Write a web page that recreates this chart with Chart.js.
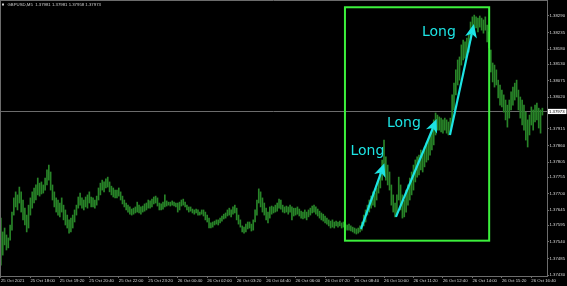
<!DOCTYPE html>
<html><head><meta charset="utf-8">
<script src="https://cdn.jsdelivr.net/npm/chart.js@4.4.0/dist/chart.umd.min.js"></script>
<style>html,body{margin:0;padding:0;background:#000;overflow:hidden}#wrap{width:567px;height:286px}</style>
</head><body><div id="wrap"><canvas id="c" width="567" height="286"></canvas></div>
<script>
const symbolTitle = 'GBPUSD,M5  1.37981 1.37981 1.37958 1.37973';
const xTickLabels = ['25 Oct 2021','25 Oct 18:00','25 Oct 19:20','25 Oct 20:40','25 Oct 22:00','25 Oct 23:20','26 Oct 00:40','26 Oct 02:00','26 Oct 03:20','26 Oct 04:40','26 Oct 06:00','26 Oct 07:20','26 Oct 08:40','26 Oct 10:00','26 Oct 11:20','26 Oct 12:40','26 Oct 14:00','26 Oct 15:20','26 Oct 16:40'];
const barsPerTick = 16;
const slotCount = 297;
const yTicks = [1.38290,1.38235,1.38180,1.38130,1.38075,1.38020,1.37915,1.37860,1.37805,1.37755,1.37700,1.37645,1.37595,1.37540,1.37485,1.37430];
const yMin = 1.374267, yMax = 1.383431;
const bidPrice = 1.37973;

const highs = [
1.37619,1.37573,1.37586,1.37563,1.37553,1.37596,1.37639,1.37686,1.37706,1.37696,
1.37722,1.37706,1.37679,1.37652,1.37629,1.37662,1.37686,1.37706,1.37719,1.37729,
1.37752,1.37735,1.37739,1.37729,1.37752,1.37779,1.37795,1.37772,1.37729,1.37706,
1.37686,1.37679,1.37669,1.37686,1.37662,1.37646,1.37629,1.37613,1.37619,1.37629,
1.37646,1.37662,1.37689,1.37702,1.37686,1.37679,1.37689,1.37696,1.37706,1.37689,
1.37686,1.37679,1.37692,1.37719,1.37735,1.37745,1.37739,1.37749,1.37755,1.37739,
1.37725,1.37719,1.37712,1.37712,1.37719,1.37706,1.37692,1.37679,1.37669,1.37662,
1.37656,1.37649,1.37652,1.37656,1.37672,1.37662,1.37656,1.37659,1.37666,1.37669,
1.37679,1.37676,1.37682,1.37689,1.37692,1.37686,1.37669,1.37666,1.37672,1.37696,
1.37676,1.37672,1.37672,1.37676,1.37672,1.37669,1.37669,1.37672,1.37679,1.37682,
1.37672,1.37662,1.37656,1.37656,1.37649,1.37646,1.37649,1.37646,1.37639,1.37646,
1.37646,1.37639,1.37629,1.37619,1.37603,1.37606,1.37609,1.37613,1.37613,1.37619,
1.37626,1.37632,1.37636,1.37646,1.37652,1.37646,1.37656,1.37662,1.37652,1.37629,
1.37613,1.37593,1.37589,1.37599,1.37606,1.37606,1.37599,1.37613,1.37646,1.37679,
1.37716,1.37706,1.37686,1.37669,1.37652,1.37639,1.37656,1.37659,1.37656,1.37662,
1.37669,1.37682,1.37679,1.37662,1.37656,1.37659,1.37656,1.37662,1.37656,1.37652,
1.37652,1.37656,1.37649,1.37642,1.37639,1.37646,1.37639,1.37646,1.37652,1.37659,
1.37662,1.37656,1.37649,1.37642,1.37636,1.37632,1.37626,1.37619,1.37613,1.37609,
1.37613,1.37606,1.37609,1.37606,1.37609,1.37603,1.37606,1.37599,1.37596,1.37599,
1.37593,1.37589,1.37586,1.37583,1.37586,1.37593,1.37606,1.37629,1.37646,1.37662,
1.37679,1.37692,1.37706,1.37702,1.37719,1.37745,1.37779,1.37812,1.37878,1.37822,
1.37795,1.37772,1.37729,1.37696,1.37669,1.37696,1.37755,1.37729,1.37696,1.37679,
1.37712,1.37729,1.37752,1.37772,1.37795,1.37812,1.37822,1.37828,1.37845,1.37838,
1.37855,1.37868,1.37878,1.37895,1.37918,1.37945,1.37968,1.37961,1.37955,1.37951,
1.37945,1.37951,1.37945,1.37938,1.37951,1.38028,1.38067,1.38111,1.38144,1.38154,
1.38194,1.38210,1.38204,1.38217,1.38227,1.38270,1.38287,1.38293,1.38287,1.38283,
1.38290,1.38283,1.38277,1.38287,1.38260,1.38237,1.38177,1.38134,1.38127,1.38111,
1.38077,1.38061,1.38044,1.38028,1.38011,1.37994,1.38011,1.38038,1.38054,1.38067,
1.38077,1.38044,1.38021,1.38011,1.37994,1.37971,1.37945,1.37961,1.37988,1.37978,
1.37994,1.38001,1.37984,1.37978,1.37984];
const lows = [
1.37463,1.37496,1.37530,1.37513,1.37520,1.37546,1.37579,1.37629,1.37656,1.37646,
1.37669,1.37639,1.37613,1.37596,1.37573,1.37586,1.37629,1.37652,1.37669,1.37679,
1.37696,1.37692,1.37699,1.37702,1.37712,1.37729,1.37745,1.37712,1.37679,1.37656,
1.37639,1.37629,1.37623,1.37639,1.37613,1.37596,1.37586,1.37569,1.37573,1.37586,
1.37606,1.37629,1.37652,1.37662,1.37652,1.37646,1.37656,1.37652,1.37669,1.37656,
1.37656,1.37652,1.37662,1.37679,1.37696,1.37712,1.37706,1.37719,1.37722,1.37706,
1.37696,1.37689,1.37686,1.37686,1.37692,1.37679,1.37666,1.37656,1.37646,1.37639,
1.37632,1.37629,1.37632,1.37636,1.37639,1.37636,1.37632,1.37639,1.37642,1.37646,
1.37652,1.37652,1.37656,1.37666,1.37669,1.37659,1.37646,1.37646,1.37649,1.37656,
1.37659,1.37662,1.37659,1.37662,1.37659,1.37656,1.37639,1.37646,1.37659,1.37662,
1.37656,1.37646,1.37639,1.37642,1.37636,1.37632,1.37636,1.37629,1.37629,1.37632,
1.37626,1.37613,1.37606,1.37586,1.37586,1.37589,1.37596,1.37599,1.37596,1.37603,
1.37609,1.37616,1.37619,1.37626,1.37629,1.37623,1.37632,1.37636,1.37613,1.37599,
1.37589,1.37573,1.37569,1.37573,1.37583,1.37586,1.37576,1.37579,1.37606,1.37629,
1.37669,1.37656,1.37639,1.37629,1.37613,1.37603,1.37619,1.37632,1.37636,1.37639,
1.37642,1.37652,1.37649,1.37639,1.37636,1.37639,1.37632,1.37639,1.37613,1.37626,
1.37629,1.37632,1.37626,1.37619,1.37616,1.37619,1.37613,1.37623,1.37629,1.37636,
1.37639,1.37632,1.37626,1.37619,1.37613,1.37609,1.37603,1.37599,1.37593,1.37586,
1.37589,1.37586,1.37593,1.37589,1.37593,1.37586,1.37589,1.37583,1.37579,1.37579,
1.37576,1.37573,1.37569,1.37566,1.37569,1.37573,1.37579,1.37593,1.37606,1.37629,
1.37639,1.37652,1.37662,1.37656,1.37679,1.37702,1.37719,1.37745,1.37772,1.37745,
1.37729,1.37712,1.37662,1.37639,1.37623,1.37632,1.37679,1.37646,1.37619,1.37623,
1.37639,1.37662,1.37679,1.37696,1.37712,1.37739,1.37755,1.37762,1.37779,1.37772,
1.37789,1.37805,1.37812,1.37828,1.37845,1.37862,1.37895,1.37911,1.37911,1.37905,
1.37901,1.37911,1.37901,1.37895,1.37905,1.37928,1.37978,1.38028,1.38061,1.38077,
1.38127,1.38144,1.38150,1.38160,1.38170,1.38210,1.38237,1.38243,1.38250,1.38237,
1.38253,1.38243,1.38233,1.38243,1.38204,1.38184,1.38104,1.38071,1.38054,1.38061,
1.38018,1.37994,1.37988,1.37971,1.37945,1.37921,1.37951,1.37978,1.37994,1.38011,
1.38021,1.37978,1.37951,1.37928,1.37911,1.37878,1.37855,1.37895,1.37928,1.37911,
1.37938,1.37945,1.37918,1.37901,1.37961];

const tradeBox = {fromBar:186.8, toBar:265.1, top:1.38319, bottom:1.37544};
const arrows = [
  {fromBar:195.5, fromPrice:1.37583, toBar:208.2, toPrice:1.37801},
  {fromBar:214.5, fromPrice:1.37623, toBar:236.6, toPrice:1.37948},
  {fromBar:243.8, fromPrice:1.37895, toBar:256.8, toPrice:1.38263}
];
const signalLabels = [
  {bar:199.0, price:1.37842, text:'Long'},
  {bar:218.8, price:1.37935, text:'Long'},
  {bar:237.8, price:1.38237, text:'Long'}
];

const barColor = 'rgb(40,132,40)';
const boxColor = '#3cf03c';
const arrowColor = '#1de4e4';
const axisColor = '#6c6c6c';
const labelColor = '#d8d8d8';
const tinyFont = {family:'Liberation Sans', size:4.3};

const slots = [];
for (let i = 0; i < slotCount; i++) slots.push(i);

function drawArrow(ctx, x1, y1, x2, y2) {
  const ang = Math.atan2(y2 - y1, x2 - x1);
  const dx = Math.cos(ang), dy = Math.sin(ang);
  const L = 13.5, W = 6;
  const bx = x2 - L*dx, by = y2 - L*dy;
  const nx = x2 - 0.72*L*dx, ny = y2 - 0.72*L*dy;
  ctx.beginPath();
  ctx.lineWidth = 2.2;
  ctx.moveTo(x1, y1);
  ctx.lineTo(nx, ny);
  ctx.stroke();
  ctx.beginPath();
  ctx.moveTo(x2, y2);
  ctx.lineTo(bx - W*dy, by + W*dx);
  ctx.lineTo(nx, ny);
  ctx.lineTo(bx + W*dy, by - W*dx);
  ctx.closePath();
  ctx.fill();
}

const overlay = {
  id: 'overlay',
  beforeDatasetsDraw(chart) {
    const {ctx, chartArea: a, scales: {y}} = chart;
    const py = Math.round(y.getPixelForValue(bidPrice)) + 0.5;
    ctx.save();
    ctx.strokeStyle = axisColor; ctx.lineWidth = 1;
    ctx.beginPath(); ctx.moveTo(a.left, py); ctx.lineTo(a.right, py); ctx.stroke();
    ctx.restore();
  },
  afterDatasetsDraw(chart) {
    const {ctx, scales: {x, y}} = chart;
    ctx.save();
    const l = x.getPixelForValue(tradeBox.fromBar), r = x.getPixelForValue(tradeBox.toBar);
    const t = y.getPixelForValue(tradeBox.top), b = y.getPixelForValue(tradeBox.bottom);
    ctx.strokeStyle = boxColor; ctx.lineWidth = 2;
    ctx.strokeRect(l, t, r - l, b - t);
    ctx.strokeStyle = arrowColor; ctx.fillStyle = arrowColor;
    arrows.forEach(ar => drawArrow(ctx,
      x.getPixelForValue(ar.fromBar), y.getPixelForValue(ar.fromPrice),
      x.getPixelForValue(ar.toBar), y.getPixelForValue(ar.toPrice)));
    ctx.font = '14px "DejaVu Sans"';
    ctx.textAlign = 'center'; ctx.textBaseline = 'middle';
    signalLabels.forEach(s => ctx.fillText(s.text, x.getPixelForValue(s.bar), y.getPixelForValue(s.price)));
    ctx.restore();
  },
  afterDraw(chart) {
    const {ctx, chartArea: a, scales: {y}} = chart;
    ctx.save();
    ctx.strokeStyle = axisColor; ctx.lineWidth = 1;
    ctx.beginPath();
    ctx.moveTo(0, 0.5); ctx.lineTo(a.right, 0.5);
    ctx.moveTo(0.5, 0); ctx.lineTo(0.5, a.bottom);
    ctx.stroke();
    ctx.fillStyle = '#cfcfcf';
    ctx.fillRect(2, 3.5, 2, 2);
    ctx.font = '4.3px "Liberation Sans"';
    ctx.textAlign = 'left'; ctx.textBaseline = 'middle';
    ctx.fillText(symbolTitle, 7.5, 4.6);
    const py = y.getPixelForValue(bidPrice);
    ctx.fillStyle = '#ffffff';
    ctx.fillRect(a.right + 1, py - 2.6, 18.5, 5.2);
    ctx.fillStyle = '#000000';
    ctx.fillText(bidPrice.toFixed(5), a.right + 2, py + 0.2);
    ctx.restore();
  }
};

new Chart(document.getElementById('c'), {
  type: 'bar',
  data: {
    labels: slots,
    datasets: [{
      data: highs.map((h, i) => [lows[i], h]),
      backgroundColor: barColor,
      borderWidth: 0,
      barThickness: 1,
      grouped: false
    }]
  },
  options: {
    responsive: false,
    animation: false,
    devicePixelRatio: 1,
    layout: {padding: 0},
    plugins: {legend: {display: false}, tooltip: {enabled: false}},
    scales: {
      x: {
        type: 'category',
        offset: true,
        afterBuildTicks: s => { s.ticks = s.ticks.filter(t => t.value % barsPerTick === 0); },
        afterFit: s => { s.height = 10; s.paddingLeft = 0; },
        grid: {display: true, drawOnChartArea: false, drawTicks: true, tickLength: 2, color: axisColor, offset: false},
        border: {display: true, color: axisColor},
        ticks: {autoSkip: false, maxRotation: 0, minRotation: 0, align: 'start', padding: 0,
          color: labelColor, font: tinyFont,
          callback: v => xTickLabels[v / barsPerTick]}
      },
      y: {
        position: 'right',
        min: yMin, max: yMax,
        beginAtZero: false,
        afterBuildTicks: s => { s.ticks = yTicks.map(v => ({value: v})); },
        afterFit: s => { s.width = 20; s.paddingTop = 0; s.paddingBottom = 0; },
        grid: {display: true, drawOnChartArea: false, drawTicks: true, tickLength: 2, color: axisColor},
        border: {display: true, color: axisColor},
        ticks: {padding: 0.5, color: labelColor, font: tinyFont, callback: v => v.toFixed(5)}
      }
    }
  },
  plugins: [overlay]
});
</script>
</body></html>
